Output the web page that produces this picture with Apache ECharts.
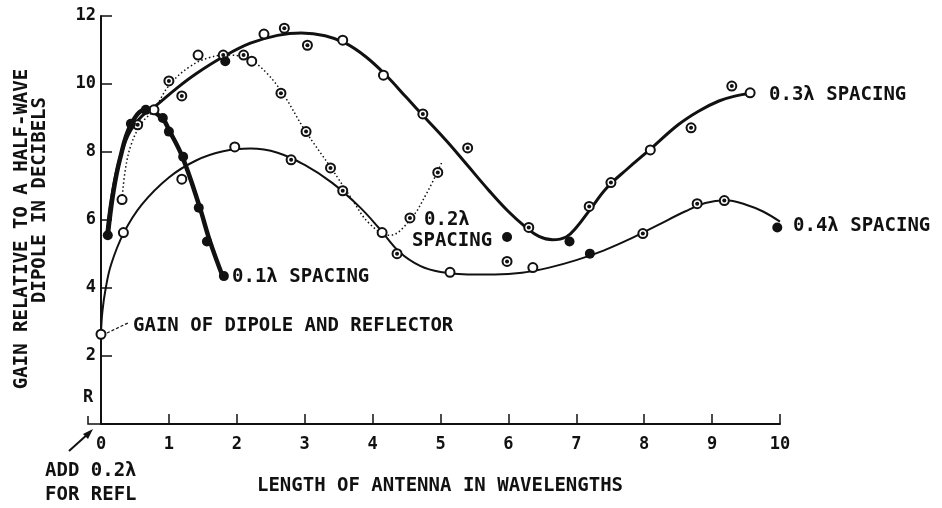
<!DOCTYPE html>
<html><head><meta charset="utf-8">
<script src="https://cdn.jsdelivr.net/npm/echarts@6/dist/echarts.min.js"></script>
<style>html,body{margin:0;padding:0;background:#fff}#c{width:942px;height:508px}</style>
</head><body><div id="c"></div>
<script>
// ---- data (x = antenna length in wavelengths, y = gain in dB) ----
const xTicks = [0,1,2,3,4,5,6,7,8,9,10];
const yTicks = [2,4,6,8,10,12];

// fitted curves
const curve01 = [[0.1,5.55],[0.18,6.8],[0.28,7.8],[0.44,8.8],[0.66,9.25],[0.9,9.0],[1.0,8.65],[1.2,7.85],[1.45,6.4],[1.6,5.4],[1.8,4.3]];
const curve02 = [[0.31,6.6],[0.36,7.5],[0.45,8.25],[0.6,8.85],[0.78,9.24],[1.0,9.95],[1.3,10.5],[1.6,10.78],[1.9,10.85],[2.2,10.7],[2.45,10.3],[2.7,9.65],[3.0,8.65],[3.4,7.5],[3.7,6.6],[3.95,5.9],[4.25,5.55],[4.55,6.0],[4.8,6.8],[5.02,7.7]];
const curve03 = [[0.08,5.5],[0.15,6.6],[0.25,7.6],[0.4,8.5],[0.6,9.05],[0.8,9.35],[1.1,9.85],[1.4,10.3],[1.8,10.8],[2.2,11.2],[2.6,11.43],[2.95,11.5],[3.3,11.42],[3.6,11.2],[3.9,10.8],[4.2,10.25],[4.5,9.6],[4.8,8.95],[5.1,8.3],[5.4,7.6],[5.7,6.9],[6.0,6.25],[6.25,5.8],[6.45,5.52],[6.65,5.42],[6.85,5.5],[7.0,5.78],[7.2,6.3],[7.45,6.95],[7.75,7.5],[8.1,8.1],[8.5,8.8],[8.8,9.2],[9.1,9.5],[9.35,9.65],[9.55,9.72]];
const curve04 = [[0,2.65],[0.02,3.3],[0.07,4.0],[0.15,4.7],[0.33,5.6],[0.6,6.45],[1.0,7.25],[1.4,7.75],[1.8,8.02],[2.2,8.1],[2.6,7.98],[3.0,7.62],[3.4,7.1],[3.8,6.4],[4.1,5.75],[4.4,5.05],[4.7,4.65],[5.0,4.47],[5.4,4.4],[5.8,4.4],[6.2,4.45],[6.6,4.6],[7.0,4.82],[7.4,5.1],[7.8,5.45],[8.2,5.85],[8.6,6.25],[8.9,6.5],[9.2,6.58],[9.5,6.45],[9.75,6.25],[10.0,5.95]];

// measured points
const pts01Filled = [[0.1,5.55],[0.44,8.83],[0.66,9.24],[0.91,9.0],[1.0,8.6],[1.21,7.86],[1.44,6.36],[1.56,5.37],[1.81,4.35]];
const pts02Open   = [[0.31,6.6],[0.78,9.24],[1.43,10.85],[2.22,10.67]];
const pts02Ringed = [[0.54,8.8],[1.0,10.09],[1.19,9.65],[2.1,10.85],[2.65,9.73],[3.02,8.6],[3.38,7.53],[4.55,6.06],[4.96,7.4]];
const pts03Open   = [[2.4,11.47],[3.56,11.29],[4.16,10.26],[8.09,8.06],[9.56,9.74]];
const pts03Ringed = [[1.8,10.85],[2.7,11.64],[3.04,11.14],[4.74,9.12],[5.4,8.12],[6.3,5.78],[7.19,6.4],[7.51,7.1],[8.69,8.71],[9.29,9.94]];
const pts03Filled = [[1.83,10.67],[5.98,5.5],[6.9,5.37]];
const pts04Open   = [[0,2.64],[0.33,5.63],[1.19,7.2],[1.97,8.15],[4.14,5.63],[5.14,4.46],[6.36,4.6]];
const pts04Ringed = [[2.8,7.77],[3.56,6.86],[4.36,5.01],[5.98,4.78],[7.98,5.6],[8.78,6.48],[9.18,6.57]];
const pts04Filled = [[7.2,5.01],[9.96,5.78]];

// ---- chart ----
const FONT = '"DejaVu Sans Mono", monospace';
const INK = '#111';
const chart = echarts.init(document.getElementById('c'), null, {renderer:'canvas'});

function lineS(data, w, type){
  return {type:'line', data, smooth:0.4, showSymbol:false, symbol:'none', z:2,
    lineStyle:{color:INK, width:w, type:type||'solid', opacity:1}, silent:true};
}
function openS(data){
  return {type:'scatter', data, symbol:'circle', symbolSize:9, z:4,
    itemStyle:{color:'#fff', borderColor:INK, borderWidth:2, opacity:1}};
}
function dotS(data, size){
  return {type:'scatter', data, symbol:'circle', symbolSize:size, z:5,
    itemStyle:{color:INK, opacity:1}};
}
const allRinged = pts02Ringed.concat(pts03Ringed, pts04Ringed);
const allOpen = pts02Open.concat(pts03Open, pts04Open);
const allFilled = pts01Filled.concat(pts03Filled, pts04Filled);

function txt(x, y, s, opt){
  return Object.assign({type:'text', x, y, z:10, silent:true,
    style:Object.assign({text:s, fill:INK, font:'bold 19px '+FONT, textVerticalAlign:'middle', textAlign:'left'}, (opt&&opt.style)||{})},
    opt && opt.rotation!==undefined ? {rotation:opt.rotation} : {});
}

chart.setOption({
  animation:false,
  backgroundColor:'#fff',
  grid:{left:101, right:162, top:16, bottom:84},
  xAxis:{type:'value', min:0, max:10, interval:1,
    axisLine:{lineStyle:{color:INK, width:2}},
    axisTick:{inside:true, length:10, lineStyle:{color:INK, width:1.5}},
    axisLabel:{color:INK, fontFamily:FONT, fontSize:17, fontWeight:'bold', margin:12,
      formatter:v=> xTicks.includes(v) ? String(v) : ''},
    splitLine:{show:false}},
  yAxis:{type:'value', min:0, max:12, interval:2,
    axisLine:{lineStyle:{color:INK, width:2}},
    axisTick:{inside:true, length:11, lineStyle:{color:INK, width:1.5}},
    axisLabel:{color:INK, fontFamily:FONT, fontSize:17, fontWeight:'bold', margin:5,
      formatter:v=> yTicks.includes(v) ? String(v) : ''},
    splitLine:{show:false}},
  series:[
    lineS(curve04, 2),
    lineS(curve03, 3),
    lineS(curve02, 1.5, [1.5,2.5]),
    lineS(curve01, 4.5),
    openS(allOpen),
    openS(allRinged),
    dotS(allRinged, 4),
    dotS(allFilled, 10)
  ],
  graphic:[
    txt(232, 277, '0.1λ SPACING'),
    txt(133, 326, 'GAIN OF DIPOLE AND REFLECTOR'),
    txt(424, 220, '0.2λ'),
    txt(412, 241, 'SPACING'),
    txt(769, 95, '0.3λ SPACING'),
    txt(793, 226, '0.4λ SPACING'),
    txt(45, 471, 'ADD 0.2λ'),
    txt(45, 495, 'FOR REFL'),
    txt(440, 486, 'LENGTH OF ANTENNA IN WAVELENGTHS', {style:{textAlign:'center'}}),
    txt(22, 229, 'GAIN RELATIVE TO A HALF-WAVE', {rotation:Math.PI/2, style:{textAlign:'center'}}),
    txt(40, 200, 'DIPOLE IN DECIBELS', {rotation:Math.PI/2, style:{textAlign:'center'}}),
    txt(88, 398, 'R', {style:{textAlign:'center', font:'bold 17px '+FONT}}),
    {type:'polyline', z:10, silent:true, shape:{points:[[88,416],[88,424],[101,424]]}, style:{stroke:INK, lineWidth:1.5, fill:null}},
    {type:'line', z:10, silent:true, shape:{x1:107,y1:333,x2:128,y2:323}, style:{stroke:INK, lineWidth:1.2, lineDash:[3,2]}},
    {type:'line', z:10, silent:true, shape:{x1:69,y1:451,x2:89,y2:433}, style:{stroke:INK, lineWidth:2}},
    {type:'polygon', z:10, silent:true, shape:{points:[[93,429],[83,434],[88,439]]}, style:{fill:INK}}
  ]
});
</script>
</body></html>
